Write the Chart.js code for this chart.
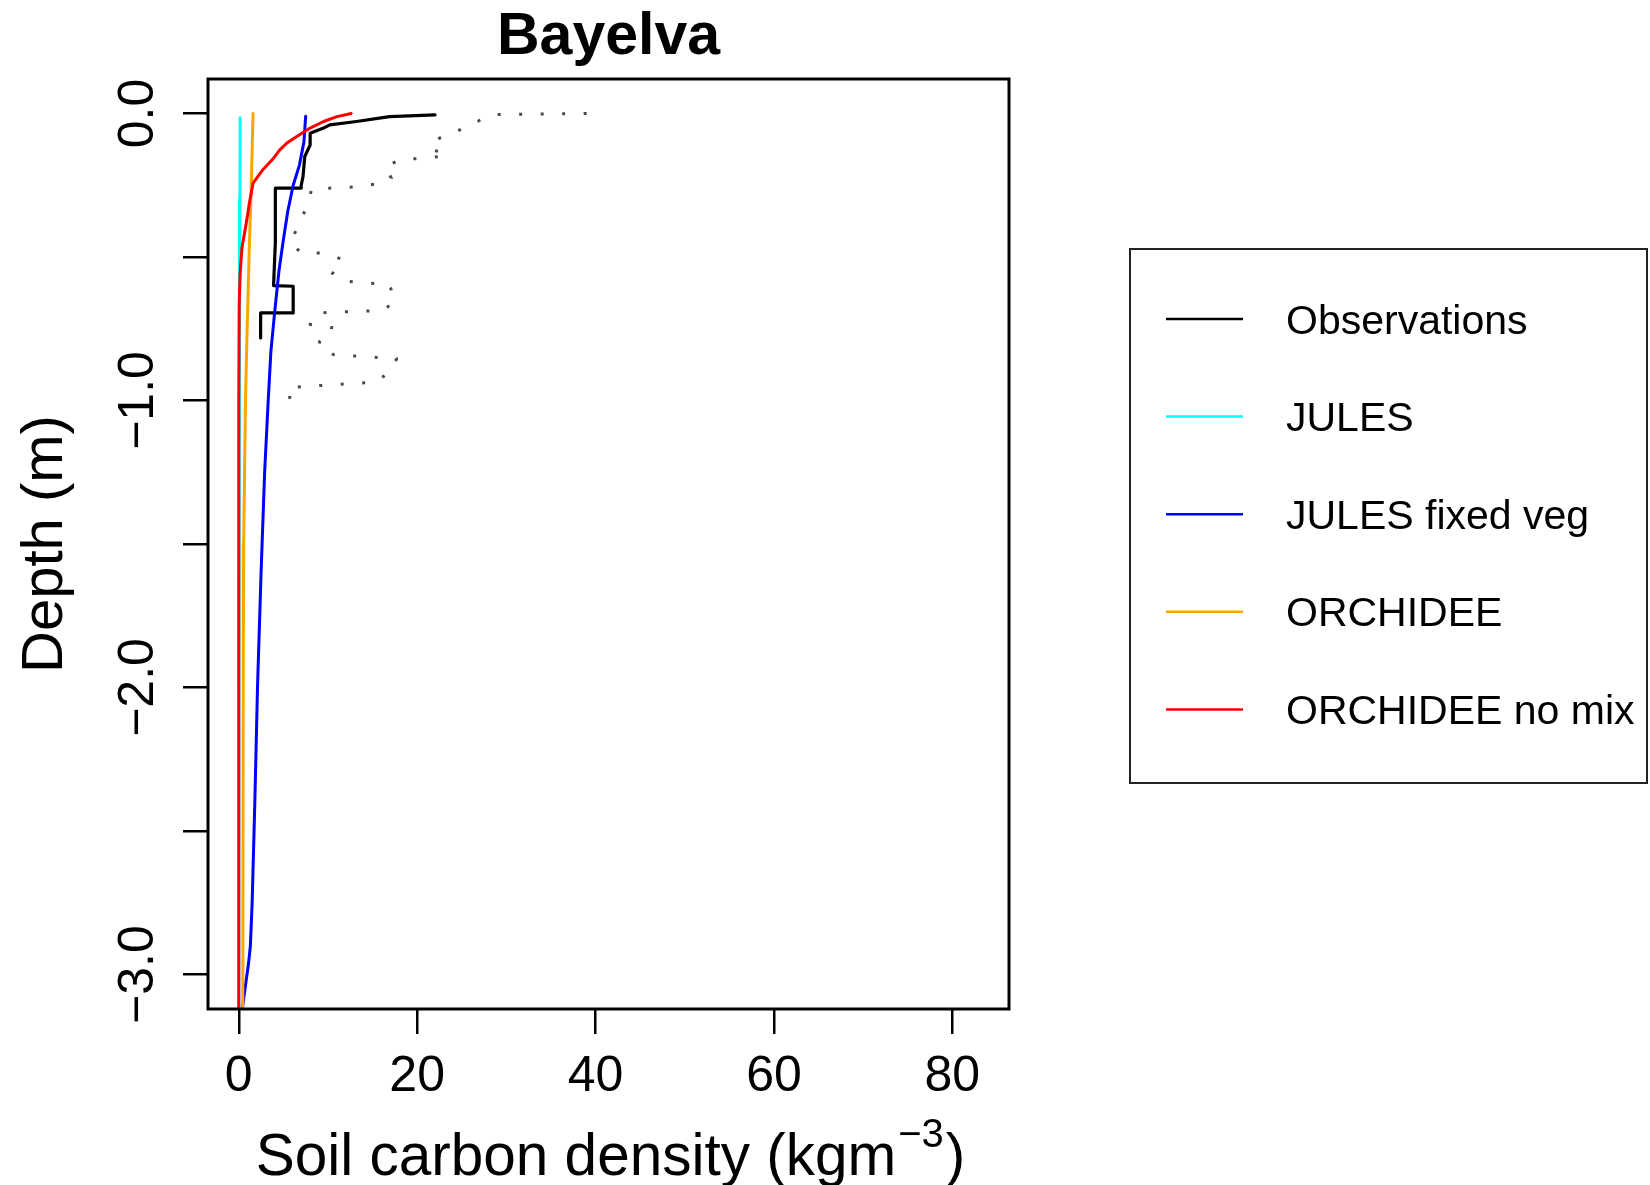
<!DOCTYPE html>
<html>
<head>
<meta charset="utf-8">
<title>Bayelva</title>
<script src="https://cdn.jsdelivr.net/npm/chart.js@4.4.1/dist/chart.umd.min.js"></script>
<style>
  html, body { margin: 0; padding: 0; background: #fff; }
  #chart { display: block; }
</style>
</head>
<body>
<canvas id="chart" width="1650" height="1185"></canvas>
<script>
// ==================== DATA ====================
const xTicks = [0, 20, 40, 60, 80];
const yTicks = [0, -0.5, -1, -1.5, -2, -2.5, -3];
const yLabelValues = [0, -1, -2, -3];
const yLabels = ['0.0', '\u22121.0', '\u22122.0', '\u22123.0'];

// observations (solid) : depth (m), carbon (kg m-3)
const obsDepth  = [-0.005, -0.011, -0.028, -0.04, -0.051, -0.069, -0.11, -0.15, -0.22, -0.25, -0.26, -0.26, -0.45, -0.6, -0.602, -0.695, -0.695, -0.782];
const obsCarbon = [22.0, 16.9, 13.2, 10.2, 9.5, 8.0, 8.0, 7.4, 7.2, 7.0, 7.0, 4.1, 4.1, 3.9, 6.1, 6.1, 2.45, 2.45];

// observation range (dotted)
const obsRangeDepth  = [0, -0.004, -0.034, -0.06, -0.086, -0.12, -0.147, -0.156, -0.16, -0.185, -0.225, -0.245, -0.256, -0.263, -0.341, -0.449, -0.486, -0.486, -0.509, -0.558, -0.585, -0.596, -0.654, -0.686, -0.695, -0.735, -0.747, -0.793, -0.81, -0.84, -0.855, -0.906, -0.936, -0.955, -1.02];
const obsRangeCarbon = [39.0, 28.5, 26.3, 24.6, 22.5, 21.4, 23.3, 20.9, 18.2, 16.4, 17.1, 15.6, 13.2, 8.2, 7.4, 5.8, 7.0, 9.5, 11.7, 10.5, 12.1, 16.9, 17.5, 16.2, 8.8, 8.0, 10.6, 9.1, 8.9, 10.6, 17.7, 16.7, 15.3, 5.5, 5.9];

// JULES
const julesDepth  = [-0.015, -0.1, -0.3, -0.5, -1.0, -2.0, -3.12];
const julesCarbon = [0.15, 0.15, 0.12, 0.1, 0.05, 0.02, 0.01];

// JULES fixed veg
const fixedDepth  = [-0.01, -0.1, -0.18, -0.25, -0.34, -0.44, -0.55, -0.7, -0.83, -1.0, -1.25, -1.6, -2.0, -2.4, -2.75, -2.9, -2.96, -3.05, -3.12];
const fixedCarbon = [7.5, 7.3, 6.8, 6.1, 5.5, 5.0, 4.5, 4.0, 3.6, 3.3, 2.9, 2.5, 2.1, 1.8, 1.5, 1.3, 1.1, 0.7, 0.4];

// ORCHIDEE
const orcDepth  = [0, -0.25, -0.5, -0.8, -1.0, -1.5, -2.0, -3.12];
const orcCarbon = [1.6, 1.4, 1.15, 0.9, 0.75, 0.55, 0.5, 0.45];

// ORCHIDEE no mix
const nomixDepth  = [0, -0.011, -0.028, -0.051, -0.08, -0.103, -0.127, -0.156, -0.196, -0.243, -0.31, -0.38, -0.47, -0.56, -0.66, -1.0, -2.0, -3.12];
const nomixCarbon = [12.6, 11.0, 9.5, 8.0, 6.5, 5.4, 4.6, 3.9, 2.7, 1.6, 1.2, 0.85, 0.35, 0.15, 0.05, 0.0, 0.0, 0.0];

const legendNames  = ['Observations', 'JULES', 'JULES fixed veg', 'ORCHIDEE', 'ORCHIDEE no mix'];
const legendColors = ['#000000', '#00FFFF', '#0000FF', '#FFA500', '#FF0000'];

// ==================== HELPERS ====================
const FONT = '"Liberation Sans", Arial, Helvetica, sans-serif';

function toPoints(xs, ys) {
  return xs.map((v, i) => ({ x: v, y: ys[i] }));
}

function lineSet(label, xs, ys, color, width, order, dash) {
  return {
    label: label,
    data: toPoints(xs, ys),
    showLine: true,
    borderColor: color,
    borderWidth: width,
    borderDash: dash || [],
    borderCapStyle: dash ? 'butt' : 'round',
    borderJoinStyle: 'round',
    pointRadius: 0,
    fill: false,
    tension: 0,
    order: order
  };
}

// ==================== DECORATION PLUGIN ====================
const decorPlugin = {
  id: 'decor',
  afterDraw(chart) {
    const ctx = chart.ctx;
    const area = chart.chartArea;
    const xs = chart.scales.x;
    const ys = chart.scales.y;
    const cx = (area.left + area.right) / 2;
    const cy = (area.top + area.bottom) / 2;

    ctx.save();
    // plot box
    ctx.strokeStyle = '#000';
    ctx.lineWidth = 3;
    ctx.strokeRect(area.left, area.top, area.right - area.left, area.bottom - area.top);

    ctx.fillStyle = '#000';

    // x tick labels
    ctx.font = '50px ' + FONT;
    ctx.textAlign = 'center';
    ctx.textBaseline = 'alphabetic';
    xTicks.forEach(v => ctx.fillText(String(v), xs.getPixelForValue(v), 1091));

    // y tick labels (rotated)
    yLabelValues.forEach((v, i) => {
      ctx.save();
      ctx.translate(153, ys.getPixelForValue(v));
      ctx.rotate(-Math.PI / 2);
      ctx.fillText(yLabels[i], 0, 0);
      ctx.restore();
    });

    // title
    ctx.font = 'bold 59px ' + FONT;
    ctx.fillText('Bayelva', cx, 54);

    // y axis title
    ctx.font = '58px ' + FONT;
    ctx.save();
    ctx.translate(62, cy);
    ctx.rotate(-Math.PI / 2);
    ctx.fillText('Depth (m)', 0, 0);
    ctx.restore();

    // x axis title with superscript
    const main = 'Soil carbon density (kgm';
    const sup = '\u22123';
    const close = ')';
    ctx.font = '58.5px ' + FONT;
    const w1 = ctx.measureText(main).width;
    const w3 = ctx.measureText(close).width;
    ctx.font = '40px ' + FONT;
    const w2 = ctx.measureText(sup).width;
    const total = w1 + w2 + w3 + 4;
    let x0 = 610.5 - total / 2;
    ctx.textAlign = 'left';
    ctx.font = '58.5px ' + FONT;
    ctx.fillText(main, x0, 1175);
    ctx.font = '40px ' + FONT;
    ctx.fillText(sup, x0 + w1 + 2, 1147);
    ctx.font = '58.5px ' + FONT;
    ctx.fillText(close, x0 + w1 + w2 + 4, 1175);

    // legend
    ctx.strokeStyle = '#222';
    ctx.lineWidth = 2;
    ctx.strokeRect(1130, 249, 1647 - 1130, 783 - 249);
    ctx.font = '41px ' + FONT;
    legendNames.forEach((name, i) => {
      const y = 319 + i * 97.6;
      ctx.strokeStyle = legendColors[i];
      ctx.lineWidth = 2.5;
      ctx.beginPath();
      ctx.moveTo(1166, y);
      ctx.lineTo(1243, y);
      ctx.stroke();
      ctx.fillStyle = '#000';
      ctx.fillText(name, 1286, y + 14.5);
    });
    ctx.restore();
  }
};

// ==================== CHART ====================
const tickGrid = {
  drawOnChartArea: false,
  drawTicks: true,
  tickLength: 25,
  color: '#000',
  lineWidth: 2.5
};

new Chart(document.getElementById('chart'), {
  type: 'scatter',
  data: {
    datasets: [
      lineSet('Observation range', obsRangeCarbon, obsRangeDepth, '#4a4a4a', 3, 6, [3, 18.5]),
      lineSet('Observations', obsCarbon, obsDepth, '#000000', 3.2, 5),
      lineSet('JULES', julesCarbon, julesDepth, '#00FFFF', 3, 4),
      lineSet('JULES fixed veg', fixedCarbon, fixedDepth, '#0000FF', 3, 3),
      lineSet('ORCHIDEE', orcCarbon, orcDepth, '#FFA500', 3, 2),
      lineSet('ORCHIDEE no mix', nomixCarbon, nomixDepth, '#FF0000', 3, 1)
    ]
  },
  options: {
    responsive: false,
    animation: false,
    devicePixelRatio: 1,
    layout: { padding: { left: 0, top: 79, right: 1650 - 1009, bottom: 0 } },
    plugins: {
      legend: { display: false },
      title: { display: false },
      tooltip: { enabled: false }
    },
    scales: {
      x: {
        type: 'linear',
        min: -3.45,
        max: 86.35,
        afterBuildTicks: s => { s.ticks = xTicks.map(v => ({ value: v })); },
        afterFit: s => { s.height = 1185 - 1009; },
        ticks: { display: false },
        grid: tickGrid,
        border: { display: false }
      },
      y: {
        type: 'linear',
        min: -3.12,
        max: 0.12,
        afterBuildTicks: s => { s.ticks = yTicks.map(v => ({ value: v })); },
        afterFit: s => { s.width = 208; },
        ticks: { display: false },
        grid: tickGrid,
        border: { display: false }
      }
    }
  },
  plugins: [decorPlugin]
});
</script>
</body>
</html>
